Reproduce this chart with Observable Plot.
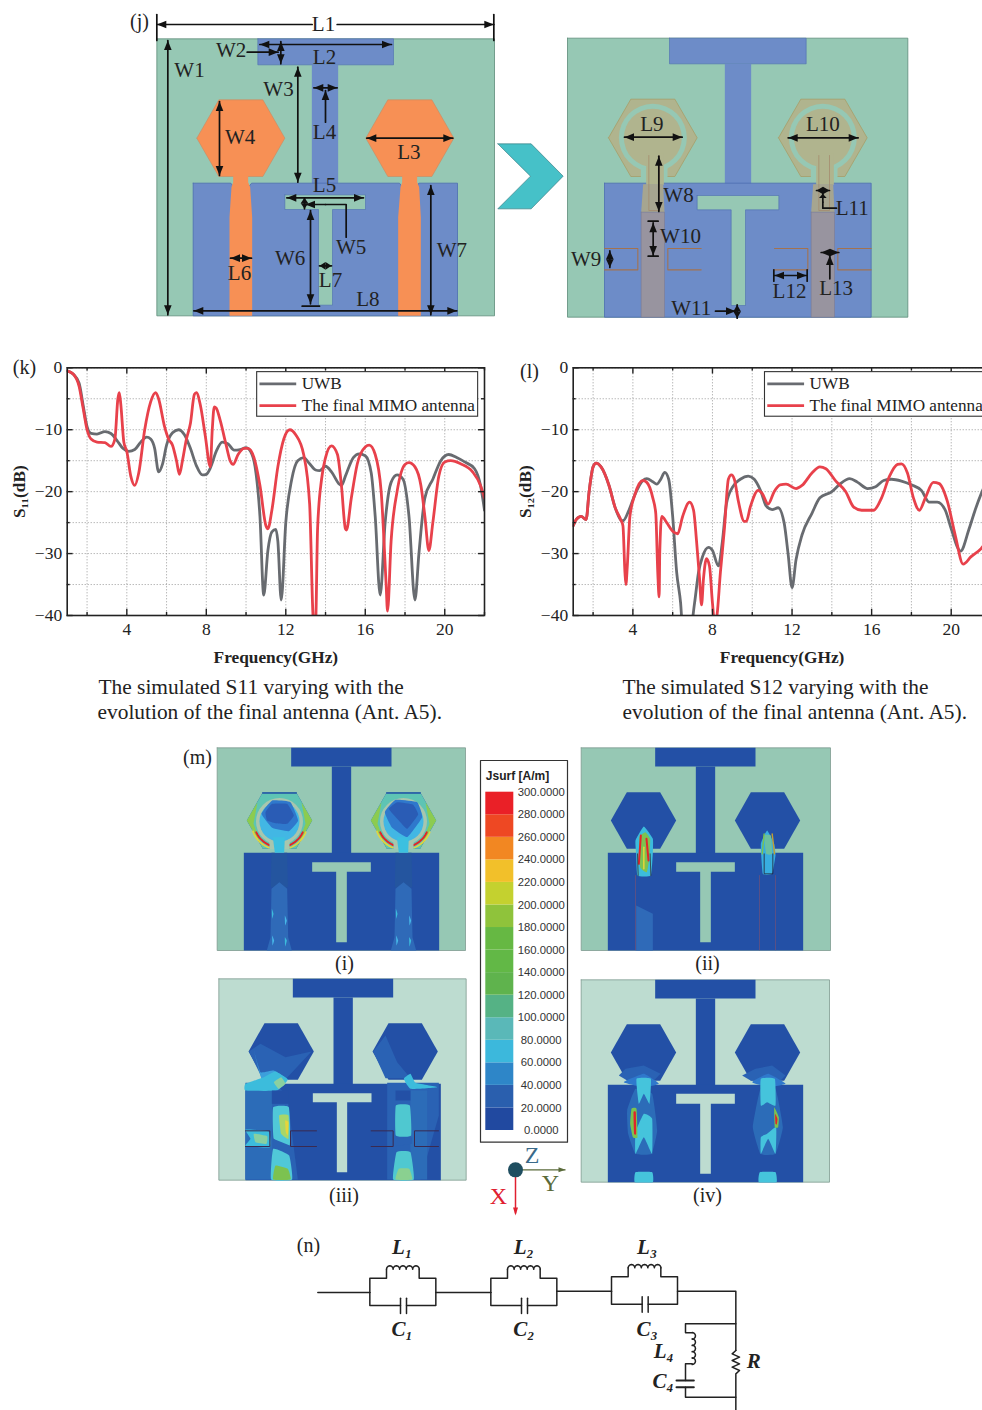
<!DOCTYPE html>
<html><head><meta charset="utf-8">
<script src="https://cdn.jsdelivr.net/npm/d3@7"></script>
<script src="https://cdn.jsdelivr.net/npm/@observablehq/plot@0.6"></script>
<style>
html,body{margin:0;padding:0;background:#fff;overflow:hidden}
#page{position:relative;width:982px;height:1410px;overflow:hidden}
#page svg{position:absolute;background:transparent;max-width:none}
</style></head><body><div id="page"></div>
<script>
// ---------- chart data ----------
const s11Uwb=[[1,-.5],[1.3,-1],[1.6,-2.5],[1.8,-6],[2,-9.5],[2.2,-10.6],[2.5,-10.7],[2.9,-10.3],[3.2,-10.6],[3.5,-11.7],[3.8,-13],[4.1,-13.5],[4.4,-13.2],[4.7,-12],[5,-11.2],[5.2,-11.5],[5.4,-13],[5.6,-16.8],[5.8,-15.5],[6,-12.5],[6.3,-10.5],[6.6,-10],[6.9,-10.8],[7.2,-13],[7.5,-15.8],[7.8,-17.3],[8,-17.2],[8.2,-16.2],[8.5,-13.5],[8.8,-12],[9.1,-12.3],[9.4,-13.3],[9.7,-13.2],[10,-12.9],[10.3,-14],[10.5,-17],[10.7,-24],[10.89,-36.7],[11.1,-29.5],[11.3,-26.5],[11.5,-26.1],[11.6,-28],[11.77,-37.5],[12,-25],[12.3,-18],[12.6,-15],[12.9,-14.5],[13.2,-15.5],[13.5,-16.5],[13.7,-16.6],[14,-15.9],[14.3,-16.8],[14.7,-18.8],[14.8,-19],[15,-17.5],[15.4,-14.5],[15.7,-13.9],[16,-14.2],[16.3,-17],[16.5,-24],[16.75,-36.7],[17,-25],[17.3,-18.5],[17.6,-17.3],[17.9,-18],[18.2,-24],[18.5,-37.5],[18.7,-30],[19,-21],[19.4,-18],[19.8,-15],[20.2,-14],[20.6,-14.5],[21,-15.2],[21.5,-16.3],[21.8,-19],[22,-23]];
const s11Mimo=[[1,-.5],[1.3,-1],[1.6,-3],[1.8,-6.5],[2,-10],[2.2,-11.5],[2.5,-12],[2.9,-12.1],[3.2,-12.7],[3.4,-11.5],[3.55,-5],[3.62,-4],[3.7,-6],[3.85,-12],[4,-13.5],[4.2,-17.5],[4.4,-19],[4.6,-17],[4.9,-10],[5.2,-5.5],[5.45,-4],[5.6,-5],[5.9,-9.5],[6.1,-11.5],[6.3,-12.5],[6.5,-15],[6.65,-17.2],[6.8,-15],[7,-11.5],[7.2,-9],[7.4,-4.3],[7.5,-4],[7.7,-6],[7.95,-11],[8.2,-16],[8.3,-10],[8.4,-6.3],[8.5,-6.5],[8.7,-8.5],[9,-12.5],[9.2,-15],[9.35,-15.6],[9.6,-14],[9.9,-13],[10.1,-13],[10.4,-14.5],[10.7,-19],[11,-25.5],[11.1,-26],[11.3,-23],[11.6,-16],[11.9,-11.5],[12.2,-10],[12.5,-10.8],[12.9,-14],[13.2,-22],[13.4,-41],[13.5,-41],[13.6,-26],[13.8,-18],[14,-14.5],[14.3,-12.6],[14.6,-14],[14.8,-19],[15,-26],[15.05,-26.2],[15.3,-21],[15.6,-15.5],[16,-12.8],[16.2,-12.5],[16.5,-14],[16.8,-20],[17.05,-35],[17.12,-39.3],[17.3,-28],[17.6,-20],[18,-15.6],[18.2,-15.3],[18.5,-16],[18.8,-19],[19,-24],[19.2,-29.5],[19.4,-25],[19.7,-17.5],[20,-15.2],[20.3,-15],[20.8,-15.5],[21.4,-16.8],[21.8,-19],[22,-21]];
const s12Uwb=[[1,-25.5],[1.15,-24.5],[1.4,-24],[1.65,-24.5],[1.8,-20],[2,-16],[2.15,-15.4],[2.4,-16],[2.8,-19],[3.1,-22.5],[3.4,-24.6],[3.5,-24.7],[3.8,-23],[4.1,-20.5],[4.5,-18.2],[4.7,-17.9],[5,-18.4],[5.2,-18.8],[5.4,-18],[5.6,-16.9],[5.8,-18],[6,-24],[6.2,-33],[6.4,-38],[6.5,-42],[6.9,-42],[7.1,-38],[7.3,-33],[7.5,-30.5],[7.8,-29],[8,-29.5],[8.3,-32],[8.5,-28],[8.7,-22],[9,-19.3],[9.4,-18],[9.8,-17.5],[10.1,-18],[10.4,-19.7],[10.7,-22.3],[11,-22.9],[11.3,-22.6],[11.6,-25],[11.8,-30],[12,-35.5],[12.2,-31],[12.5,-27],[13,-23.5],[13.4,-21],[14,-20],[14.4,-18.8],[14.9,-17.9],[15.3,-18.5],[15.8,-19.5],[16.2,-19.2],[16.6,-18.2],[17,-18],[17.5,-18.3],[18,-18.9],[18.5,-19.8],[18.9,-21.7],[19.3,-21.7],[19.7,-23],[20,-26],[20.47,-29.6],[20.9,-26],[21.2,-23],[21.55,-20],[22,-17]];
const s12Mimo=[[1,-25.5],[1.15,-24.5],[1.4,-24],[1.65,-24.5],[1.8,-20],[2,-16],[2.15,-15.4],[2.4,-16],[2.8,-19],[3.1,-22.5],[3.4,-24.6],[3.5,-25.5],[3.6,-33],[3.65,-35],[3.72,-32],[3.85,-24],[4.1,-20.5],[4.5,-18.2],[4.7,-18.5],[5,-21],[5.15,-23.5],[5.25,-33],[5.32,-37],[5.35,-30],[5.45,-24],[5.7,-25],[6,-26.4],[6.25,-26.8],[6.5,-24],[6.85,-21.7],[7.05,-23],[7.2,-28],[7.35,-34],[7.45,-38.3],[7.55,-34],[7.7,-30.8],[7.85,-32],[8,-38],[8.1,-41],[8.2,-40.5],[8.4,-33],[8.6,-26],[8.8,-18],[8.95,-17.3],[9.1,-18],[9.3,-21.5],[9.6,-24.8],[9.7,-24.8],[9.9,-22.5],[10.3,-19.8],[10.5,-20.3],[10.8,-22],[11.1,-20],[11.4,-18.9],[11.7,-18.8],[12.2,-19.5],[12.5,-19],[13,-17],[13.4,-16],[13.7,-16.3],[14.2,-18.3],[14.7,-20],[15.1,-22.5],[15.5,-23],[16.1,-23],[16.5,-21],[16.9,-17.5],[17.3,-15.6],[17.5,-15.5],[17.8,-17],[18.1,-21],[18.4,-23],[18.7,-21],[19.1,-18.5],[19.4,-18.7],[19.8,-21.5],[20.2,-27],[20.6,-31.7],[21,-30.5],[21.5,-29.2],[22,-27]];
const freqMajor=[4,8,12,16,20], freqMinor=[2,6,10,14,18,22];
const dbMajor=[0,-10,-20,-30,-40], dbMinor=[-5,-15,-25,-35];
const seriesNames=["UWB","The final MIMO antenna"];
const seriesColors=["#686b70","#e8414b"];
const jsurfValues=[0,20,40,60,80,100,120,140,160,180,200,220,240,260,280,300];
const jsurfColors=["#2149a0","#2a5fae","#2e86c8","#3cb8dc","#5ab8b8","#55b285","#5fb34d","#62b846","#66b843","#8fc33b","#c4d12f","#f2c02a","#f28722","#ee4823","#ea2027"];
const SERIF="'Liberation Serif','Times New Roman',serif", SANS="'Liberation Sans',Arial,sans-serif";
const page=document.getElementById("page");
const place=(el,l,t)=>{el.style.left=l+"px";el.style.top=t+"px";page.appendChild(el)};

// ---------- line charts ----------
function chart({width,marginLeft,marginRight,ylabel,uwb,mimo,dx,shift}){
  const ln=(d,c)=>Plot.line(d,{x:p=>p[0],y:p=>p[1],stroke:c,strokeWidth:2.8,curve:"monotone-x",clip:true});
  const all=[...freqMajor,...freqMinor];
  return Plot.plot({width,height:320,marginLeft,marginRight,marginTop:12.3,marginBottom:60,
    style:{background:"transparent",fontFamily:SERIF,color:"#222"},
    x:{domain:[1,22],axis:null},y:{domain:[-40,0],axis:null},
    marks:[
      Plot.gridX(all,{stroke:"#8f8f8f",strokeOpacity:.9,strokeDasharray:"1,2"}),
      Plot.gridY([...dbMajor,...dbMinor],{stroke:"#8f8f8f",strokeOpacity:.9,strokeDasharray:"1,2"}),
      ln(uwb,seriesColors[0]),ln(mimo,seriesColors[1]),
      Plot.ruleX(freqMajor,{y1:-40,y2:-39,stroke:"#222",strokeWidth:1.4}),
      Plot.ruleX(freqMajor,{y1:0,y2:-1,stroke:"#222",strokeWidth:1.4}),
      Plot.ruleX(freqMinor,{y1:-40,y2:-39.5,stroke:"#222",strokeWidth:1.4}),
      Plot.ruleX(freqMinor,{y1:0,y2:-.5,stroke:"#222",strokeWidth:1.4}),
      Plot.ruleY(dbMajor,{x1:1,x2:1.3,stroke:"#222",strokeWidth:1.4}),
      Plot.ruleY(dbMajor,{x1:22,x2:21.7,stroke:"#222",strokeWidth:1.4}),
      Plot.ruleY(dbMinor,{x1:1,x2:1.15,stroke:"#222",strokeWidth:1.4}),
      Plot.ruleY(dbMinor,{x1:22,x2:21.85,stroke:"#222",strokeWidth:1.4}),
      Plot.frame({stroke:"#222",strokeWidth:1.6}),
      Plot.axisX(freqMajor,{tickSize:0,tickPadding:7,fontSize:17.5,fontFamily:SERIF,label:null,tickFormat:d=>d}),
      Plot.axisY(dbMajor,{tickSize:0,tickPadding:5,fontSize:17.5,fontFamily:SERIF,label:null}),
      Plot.rect([0],{x1:10.56+shift,x2:21.68+shift,y1:-.7,y2:-7.9,fill:"white",stroke:"#333",strokeWidth:1.1}),
      Plot.ruleY([-2.6],{x1:10.7+shift,x2:12.55+shift,stroke:seriesColors[0],strokeWidth:2.8}),
      Plot.ruleY([-6.1],{x1:10.7+shift,x2:12.55+shift,stroke:seriesColors[1],strokeWidth:2.8}),
      Plot.text([seriesNames[0]],{x:12.8+shift,y:-2.6,textAnchor:"start",fontSize:17.2,fill:"#222"}),
      Plot.text([seriesNames[1]],{x:12.8+shift,y:-6.1,textAnchor:"start",fontSize:17.2,fill:"#222"}),
      Plot.text(["Frequency(GHz)"],{frameAnchor:"bottom",lineAnchor:"middle",dy:42,fontWeight:"bold",fontSize:17.3,fill:"#222"}),
      Plot.text([ylabel],{frameAnchor:"left",textAnchor:"middle",dx,rotate:-90,fontWeight:"bold",fontSize:17.3,fill:"#222"})
    ]});
}

// ---------- diagram helpers ----------
const GREEN="#96c8b4",BLUE="#6d8cc8",ORANGE="#f79055",NAVY="#2350a6",TAN="#b0b48e",BROWN="#a3724f",PALE="#bddcd0",MID="#2c6cb8",CYAN="#3cbcdc",LIME="#7cc250",YEL="#e6d53a",RED="#e0252a";
const X=d=>d[0],Y=d=>d[1];
const marks=[];
const poly=(pts,fill,stroke="none",sw=1)=>marks.push(Plot.line([...pts,pts[0]],{x:X,y:Y,fill,stroke,strokeWidth:sw}));
const blob=(pts,fill)=>marks.push(Plot.line(pts,{x:X,y:Y,fill,stroke:"none",curve:"cardinal-closed",tension:.65}));
const path=(pts,stroke,sw=1,curve="linear")=>marks.push(Plot.line(pts,{x:X,y:Y,stroke,strokeWidth:sw,curve}));
const box=(a,b,c,d)=>[[a,b],[c,b],[c,d],[a,d]];
const label=(t,p,size=21,o={})=>marks.push(Plot.text([t],{x:()=>p[0],y:()=>p[1],fontSize:size,fontFamily:SERIF,fill:"#222",textAnchor:"middle",lineAnchor:"middle",...o}));
const disc=(p,r,fill)=>marks.push(Plot.dot([p],{x:X,y:Y,r,fill,stroke:"none"}));
const Z=(ox,oy)=>pts=>pts.map(([x,y])=>[ox+x/3,oy+y/3]);
const hex=(cx,cy,hw,hh,fl)=>[[cx-hw,cy],[cx-fl,cy-hh],[cx+fl,cy-hh],[cx+hw,cy],[cx+fl,cy+hh],[cx-fl,cy+hh]];
function head(x0,y0,x1,y1,L=9.5,W=3.8){const d=Math.hypot(x1-x0,y1-y0)||1,ux=(x1-x0)/d,uy=(y1-y0)/d;const l=Math.min(L,d*.5);poly([[x1,y1],[x1-ux*l-uy*W,y1-uy*l+ux*W],[x1-ux*l+uy*W,y1-uy*l-ux*W]],"#111")}
function dim(a,b,heads="both",sw=1.7){path([a,b],"#111",sw);if(heads!=="end"&&heads!=="none")head(b[0],b[1],a[0],a[1]);if(heads!=="start"&&heads!=="none")head(a[0],a[1],b[0],b[1])}
const arc=(c,r,a0,a1,n=14)=>d3.range(n+1).map(i=>{const a=(a0+(a1-a0)*i/n)*Math.PI/180;return [c[0]+r*Math.cos(a),c[1]+r*Math.sin(a)]});

// ---------- (j) left layout ----------
{const z=Z(125,5),P=(x,y)=>z([[x,y]])[0];
 poly(z(box(94,100,1107,931)),GREEN,"#5d8b78",.8);
 poly(z(box(397,100,804,178)),BLUE,"#4d6db0",.6);
 poly(z(box(559,178,638,540)),BLUE);
 poly(z([[203,533],[316,533],[322,541],[372,541],[378,533],[559,533],[638,533],[822,533],[828,541],[874,541],[880,533],[996,533],[996,931],[203,931]]),BLUE,"#4d6db0",.8);
 poly(z([[478,568],[720,568],[720,612],[621,612],[621,899],[579,899],[579,612],[478,612]]),GREEN,"#4d6db0",.6);
 for(const [cx,nl,nr,fl,fr] of [[346,323,368,312,380],[853,830,875,818,886]]){
  poly(z(hex(cx,398,132,115,66)),ORANGE,"#c98a5f",.6);
  poly(z([[nl,510],[nr,510],[nr,530],[nr+6,545],[fr,635],[fr,931],[fl,931],[fl,635],[nl-5,545],[nl,530]]),ORANGE);
 }
 const d=[["both",94,57,560,57,"start"],["both",635,57,1105,57,"end"],[0,127,105,127,928],[0,403,117,798,117],[0,466,108,466,175],[0,517,185,517,530],[0,565,247,635,247],[0,282,288,282,510],[0,724,398,982,398],[0,484,577,714,577],[0,537,577,537,610],[0,555,615,555,895],[0,315,758,378,758],[0,582,781,618,781],[0,205,916,994,916],[0,916,540,916,928]];
 for(const r of d) dim(P(r[1],r[2]),P(r[3],r[4]),r[5]||"both");
 dim(P(365,140),P(458,140),"end");dim(P(600,350),P(600,255),"end");
 path(z([[662,695],[662,597],[600,597]]),"#111",1.7);dim(P(600,597),P(540,597),"end");
 dim(P(94,27),P(94,105),"none");dim(P(1105,27),P(1105,105),"none");dim(P(530,902),P(582,902),"none");
 const labs=[["L1",594,57],["W1",192,195],["W2",317,135],["L2",597,155],["W3",459,252],["L4",597,380],["W4",344,395],["L3",850,440],["L5",597,540],["W5",677,725],["W6",494,757],["W7",979,735],["L6",342,803],["L7",615,825],["L8",727,882]];
 for(const [t,x,y] of labs) label(t,P(x,y));
}
// ---------- (j) right layout ----------
{const z=Z(490,25),P=(x,y)=>z([[x,y]])[0];
 poly(z([[22,355],[122,355],[218,452],[122,550],[22,550],[120,452]]),"#46c1c8","#3c7f85",.7);
 poly(z(box(231,38,1252,875)),GREEN,"#5d8b78",.8);
 poly(z(box(537,38,947,115)),BLUE,"#4d6db0",.6);
 poly(z(box(703,115,782,480)),BLUE);
 poly(z(box(342,473,1142,875)),BLUE,"#4d6db0",.8);
 poly(z([[620,510],[865,510],[865,553],[765,553],[765,840],[722,840],[722,553],[620,553]]),GREEN,"#4d6db0",.6);
 for(const cx of [487,997]){
  const c=P(cx,337);
  poly(z(hex(cx,337,133,116,66)),TAN,"#a89a60",.7);
  disc(c,34,GREEN);
  poly(z(box(cx-36,425,cx+44,455)),GREEN);
  disc(c,29,TAN);
  poly(z(box(cx-20,385,cx+33,478)),TAN);
  poly(z([[cx-29,476],[cx+31,476],[cx+35,560],[cx-35,560]]),"#a6a590");
  poly(z(box(cx-35,560,cx+35,875)),"#98949f","#7d7a90",.6);
  path(z([[cx-12,390],[cx-12,555],[cx+20,555],[cx+20,390]]),"#a3866a",.7);
 }
 path(z([[342,669],[442,669],[442,733],[342,733]]),BROWN,1.1);
 path(z([[632,669],[532,669],[532,733],[632,733]]),BROWN,1.1);
 path(z([[852,669],[952,669],[952,733],[852,733]]),BROWN,1.1);
 path(z([[1142,669],[1042,669],[1042,733],[1142,733]]),BROWN,1.1);
 for(const r of [[402,335,575,335],[505,392,505,558],[488,592,488,690],[358,676,358,726],[740,838,740,878],[893,337,1103,337],[978,495,1017,495],[852,750,948,750],[992,681,1045,681]]) dim(P(r[0],r[1]),P(r[2],r[3]));
 dim(P(675,857),P(735,857),"end");dim(P(1018,760),P(1018,690),"end");
 path(z([[1038,548],[997,548],[997,530]]),"#111",1.7);dim(P(997,530),P(997,505),"end");
 for(const r of [[473,587,503,587],[473,692,503,692],[850,733,850,767],[950,733,950,767]]) dim(P(r[0],r[1]),P(r[2],r[3]),"none");
 const labs=[["L9",484,295],["L10",997,295],["W8",564,510],["L11",1085,548],["W10",570,632],["W9",287,700],["L12",897,797],["L13",1037,788],["W11",602,847]];
 for(const [t,x,y] of labs) label(t,P(x,y));
}
label("(j)",[139,21],20);label("(k)",[24,367],20);label("(l)",[529,371],20);label("(m)",[197,757],20);label("(n)",[308,1245],20);

// ---------- captions ----------
[["The simulated S11 varying with the",98,686.5],["evolution of the final antenna (Ant. A5).",97,712],["The simulated S12 varying with the",622,686.5],["evolution of the final antenna (Ant. A5).",622,712]]
 .forEach(([t,x,y])=>label(t,[x,y],21.4,{textAnchor:"start"}));

// ---------- (m) current panels ----------
function panel(zx,zy,pw,ph,ox,oy,bg){
 const z=Z(zx,zy);
 poly(z(box(ox,oy,ox+pw,oy+ph)),bg,"#7f9a90",.8);
 poly(z(box(ox+222,oy,ox+523,oy+56)),NAVY);
 poly(z(box(ox+344,oy+56,ox+402,oy+320)),NAVY);
 poly(z(box(ox+80,oy+315,ox+666,oy+ph)),NAVY);
 for(const cx of [ox+187,ox+559]) poly(z(hex(cx,oy+218,98,85,50)),NAVY);
 return z;
}
const slotT=(z,ox,oy)=>poly(z([[ox+285,oy+343],[ox+461,oy+343],[ox+461,oy+372],[ox+389,oy+372],[ox+389,oy+583],[ox+357,oy+583],[ox+357,oy+372],[ox+285,oy+372]]),GREEN);
// (i)
{const z=panel(175,740,745,608,125,22,GREEN);
 for(const [l,r] of [[288,335],[660,708]]){
  poly(z([[l,337],[r,337],[r+2,440],[l-2,440]]),"#24559f");
  poly(z([[l,445],[(l+r)/2,425],[r,445],[r+3,590],[r+14,630],[l-14,630],[l-3,590]]),"#2f6ab8");
  blob(z([[l+1,505],[l+6,520],[l+2,535]]),CYAN);blob(z([[r-7,525],[r-1,540],[r-6,555]]),"#47b7e8");
  blob(z([[l+2,585],[l+8,600],[l+3,615]]),"#47b7e8");blob(z([[r-7,590],[r-1,600],[r-6,618]]),CYAN);
 }
 for(const [cx,blobPts,midPts] of [[312,[[270,215],[290,190],[335,190],[355,225],[335,250],[300,248],[275,240]],[[258,220],[290,180],[345,185],[368,240],[340,272],[290,262]]],[684,[[640,205],[665,185],[712,192],[728,222],[695,265],[668,238]],[[628,215],[660,178],[725,185],[740,230],[695,290],[650,262]]]]){
  const C=[cx,243];
  poly(z(hex(cx,240,98,85,50)),"#5ec4b4");
  poly(z(box(cx-52,155,cx+52,160)),NAVY);
  poly(z([[cx-98,240],[cx-66,185],[cx-78,250],[cx-50,325],[cx-62,300]]),"#8ccb50");
  poly(z([[cx+98,240],[cx+66,185],[cx+78,250],[cx+50,325],[cx+62,300]]),"#8ccb50");
  path(z(arc(C,85,22,68)),YEL,1.6);path(z(arc(C,85,112,160)),YEL,1.6);
  path(z(arc(C,77,25,68)),RED,2);path(z(arc(C,77,112,155)),RED,2);
  disc(z([C])[0],23.5,"#a8c6ae");
  poly(z(box(cx-30,300,cx+30,326)),"#a8c6ae");
  disc(z([C])[0],20,"#42b7e4");
  blob(z(midPts),"#2f78cc");blob(z(blobPts),"#2a5cb5");
  poly(z([[cx-20,290],[cx+16,290],[cx+14,337],[cx-14,337]]),"#3cc0e0");
 }
 slotT(z,125,22);
}
// (ii)
{const z=panel(575,740,748,608,17,22,GREEN);
 poly(z([[182,495],[232,520],[232,630],[182,630]]),"#2f6ab8");
 blob(z([[180,300],[205,258],[232,295],[232,340],[226,405],[186,405],[182,340]]),CYAN);
 blob(z([[192,290],[210,275],[224,295],[222,350],[214,395],[194,380]]),LIME);
 path(z([[196,285],[190,370]]),RED,2);path(z([[213,295],[219,360]]),RED,2);path(z([[205,320],[205,385]]),YEL,1.5);
 path(z([[186,340],[188,405]]),"#333",.8);path(z([[224,340],[226,405]]),"#333",.8);
 blob(z([[556,310],[575,270],[596,310],[600,345],[590,400],[562,400]]),"#38aee0");
 blob(z([[566,285],[586,285],[590,340],[572,340]]),"#6cc0a0");
 path(z([[566,280],[560,340]]),LIME,1.4);path(z([[590,280],[597,340]]),"#c4a030",1.4);
 path(z([[566,340],[566,400],[592,400],[592,340]]),"#223",.8);
 path(z([[552,405],[552,628]]),"#70507a",.7);path(z([[600,405],[600,628]]),"#70507a",.7);
 path(z([[180,405],[180,628]]),"#70507a",.7);
 slotT(z,17,22);
}
// (iii)
{const z=panel(210,975,742,604,25,10,PALE);
 poly(z([[115,228],[150,205],[225,245],[303,228],[228,308],[155,308]]),"#2a62b4");
 poly(z([[488,228],[525,180],[560,260],[600,308],[525,308]]),"#2a62b4");
 poly(z([[105,322],[190,322],[230,360],[262,612],[105,612]]),"#2a62b4");
 poly(z([[530,322],[685,322],[685,420],[630,612],[530,612]]),"#2a62b4");
 poly(z([[105,345],[185,345],[185,612],[105,612]]),MID);
 poly(z([[600,345],[650,345],[650,612],[600,612]]),MID);
 blob(z([[130,225],[150,290],[190,285],[232,312],[190,318],[155,315]]),"#3c9fdc");
 blob(z([[160,305],[195,288],[232,312],[200,345],[105,345],[105,325]]),CYAN);
 blob(z([[580,310],[600,295],[615,322],[680,335],[600,340]]),CYAN);
 blob(z([[105,462],[175,468],[178,515],[105,512],[120,490]]),CYAN);
 blob(z([[130,475],[170,482],[168,505],[135,500]]),"#8ad0a0");
 blob(z([[188,395],[235,395],[238,510],[190,490]]),"#50c8d8");
 blob(z([[206,420],[234,420],[234,490],[212,475]]),"#a8d66a");
 blob(z([[224,435],[234,440],[232,480],[226,470]]),YEL);
 blob(z([[188,520],[236,540],[245,612],[182,612]]),"#50c8d8");
 blob(z([[195,570],[232,580],[240,612],[188,612]]),LIME);
 blob(z([[556,390],[598,390],[602,480],[556,480]]),"#4fc8d0");
 blob(z([[558,530],[600,530],[610,612],[548,612]]),"#4fc8d0");
 blob(z([[565,580],[596,580],[605,612],[555,612]]),"#8ad090");
 blob(z([[190,320],[212,305],[225,325],[205,340]]),"#8ad0a0");
 poly(z([[188,490],[238,510],[238,530],[188,515]]),"#2a62b4");
 poly(z([[552,490],[605,485],[605,505],[552,512]]),"#2a62b4");
 poly(z([[184,345],[234,345],[234,385],[184,385]]),NAVY);
 poly(z([[555,345],[600,345],[600,375],[555,375]]),NAVY);
 for(const p of [[[105,466],[178,466],[178,513],[105,513]],[[318,466],[240,466],[240,513],[318,513]],[[482,466],[548,466],[548,513],[482,513]],[[684,466],[612,466],[612,513],[684,513]]]) path(z(p),"#3a2a50",1);
 poly(z([[307,353],[483,353],[483,380],[410,380],[410,590],[379,590],[379,380],[307,380]]),PALE);
}
// (iv)
{const z=panel(575,740,745,607,17,718,PALE);
 poly(z([[130,1005],[150,985],[205,975],[255,1000],[235,1020],[155,1020]]),"#2a62b4");
 poly(z([[500,1005],[540,985],[590,975],[630,1005],[615,1020],[525,1020]]),"#2a62b4");
 blob(z([[155,1110],[180,1045],[230,1060],[245,1170],[228,1240],[180,1240],[158,1180]]),MID);
 blob(z([[532,1160],[555,1045],[600,1045],[622,1160],[600,1240],[555,1240]]),MID);
 blob(z([[145,1025],[205,1000],[250,1030],[205,1040]]),"#2f78cc");
 blob(z([[530,1025],[578,1000],[630,1030],[580,1040]]),"#2f78cc");
 blob(z([[183,1015],[226,1015],[222,1090],[205,1060],[190,1090]]),"#45c4dc");
 blob(z([[556,1015],[598,1015],[600,1095],[575,1085],[556,1095]]),"#45c4dc");
 blob(z([[180,1175],[205,1120],[230,1135],[230,1240],[205,1190],[180,1240]]),"#45c4dc");
 blob(z([[556,1190],[575,1180],[602,1160],[600,1240],[578,1195],[556,1240]]),"#45c4dc");
 blob(z([[180,1295],[230,1295],[232,1325],[178,1325]]),"#45c4dc");
 blob(z([[553,1295],[600,1295],[603,1325],[550,1325]]),"#45c4dc");
 blob(z([[168,1105],[183,1105],[186,1190],[172,1190],[164,1150]]),LIME);
 blob(z([[174,1115],[181,1115],[182,1180],[176,1180]]),RED);
 blob(z([[596,1100],[610,1130],[608,1160],[598,1160]]),LIME);
 blob(z([[599,1120],[606,1135],[604,1152],[600,1150]]),RED);
 poly(z([[302,1060],[478,1060],[478,1090],[406,1090],[406,1300],[374,1300],[374,1090],[302,1090]]),PALE);
}
[["(i)",344,963],["(ii)",707,963],["(iii)",343.5,1195],["(iv)",707,1195]].forEach(([t,x,y])=>label(t,[x,y],20));
// colour-bar box and axis triad
{const z=Z(470,750),P=(x,y)=>z([[x,y]])[0];
 poly(z(box(30,30,291,1175)),"#fff","#333",1.2);
 const C=P(135,1258);
 marks.push(Plot.link([0],{x1:()=>C[0],y1:()=>C[1],x2:()=>565,y2:()=>C[1],stroke:"#5a6a3a",strokeWidth:1.3}));
 marks.push(Plot.link([0],{x1:()=>C[0],y1:()=>C[1],x2:()=>C[0],y2:()=>1213,stroke:"#e02030",strokeWidth:1.5}));
 poly([[565,C[1]],[558,C[1]-2.5],[558,C[1]+2.5]],"#5a6a3a");
 poly([[C[0],1215],[C[0]-2.5,1207],[C[0]+2.5,1207]],"#e02030");
 disc(C,7.5,"#1f4e60");
 label("Z",[531.5,1155],24,{fill:"#3a6a8a"});label("Y",[550,1183],24,{fill:"#5a6a3a"});label("X",[498,1196],24,{fill:"#e02030"});
 label("Jsurf [A/m]",[517,776],12,{fontFamily:SANS,fontWeight:"bold",fill:"#222"});
}
// ---------- (n) circuit ----------
{const z=Z(290,1225),P=(x,y)=>z([[x,y]])[0],W="#222",sw=1.5;
 function cell(dx,y){
  path(z([[dx+238,y],[dx+238,y-43],[dx+288,y-43],[dx+288,y-70]]),W,sw);
  path(z([[dx+386,y-70],[dx+386,y-43],[dx+436,y-43],[dx+436,y+39],[dx+348,y+39]]),W,sw);
  path(z([[dx+238,y],[dx+238,y+39],[dx+330,y+39]]),W,sw);
  path(z([[dx+330,y+17],[dx+330,y+63]]),W,sw);path(z([[dx+348,y+17],[dx+348,y+63]]),W,sw);
  const bumps=[0,1,2,3,4].flatMap(i=>arc([dx+298+i*19.6,y-70],10,180,360,6));
  path(z(bumps),W,sw);
 }
 path(z([[82,201],[238,201]]),W,sw);cell(0,201);
 path(z([[436,201],[601,201]]),W,sw);cell(363,201);
 path(z([[799,197],[963,197]]),W,sw);cell(725,197);
 path(z([[1161,197],[1336,197],[1336,375]]),W,sw);
 path(z([[1336,375],[1325,385],[1347,395],[1325,405],[1347,415],[1325,425],[1347,435],[1336,445],[1336,555]]),W,sw);
 path(z([[1336,295],[1185,295],[1185,322],[1205,322]]),W,sw);
 path(z([0,1,2,3,4].flatMap(i=>arc([1205,331+i*19],10,-90,90,6))),W,sw);
 path(z([[1205,415],[1185,415],[1185,465]]),W,sw);
 path(z([[1158,465],[1210,465]]),W,2);path(z([[1158,485],[1210,485]]),W,2);
 path(z([[1185,485],[1185,515],[1336,515]]),W,sw);
 [["L₁",335,65],["C₁",335,312],["L₂",700,65],["C₂",700,312],["L₃",1070,65],["C₃",1070,312],["L₄",1120,378],["C₄",1118,468],["R",1390,408]]
  .forEach(([t,x,y])=>label(t,P(x,y),21,{fontWeight:"bold",fontStyle:"italic"}));
}
// page layer
place(Plot.plot({width:982,height:1410,margin:0,style:{background:"transparent",fontFamily:SERIF},
  x:{domain:[0,982],range:[0,982],axis:null},y:{domain:[0,1410],range:[0,1410],axis:null},marks}),0,0);

// ---------- charts ----------
place(chart({width:495,marginLeft:66.7,marginRight:11,ylabel:"S₁₁(dB)",uwb:s11Uwb,mimo:s11Mimo,dx:-47.7,shift:0}),0,355);
place(chart({width:505,marginLeft:67.7,marginRight:19.5,ylabel:"S₁₂(dB)",uwb:s12Uwb,mimo:s12Mimo,dx:-47.7,shift:.08}),505,355);

// ---------- colour bar ----------
const bands=jsurfColors.map((c,i)=>({lo:jsurfValues[i],hi:jsurfValues[i+1],c}));
place(Plot.plot({width:85,height:350,marginLeft:5.3,marginRight:51.7,marginTop:6.7,marginBottom:5,
  style:{background:"transparent",fontFamily:SANS,overflow:"visible"},
  x:{domain:[0,1],axis:null},y:{domain:[0,300],axis:null},
  marks:[
   Plot.rect(bands,{x1:0,x2:1,y1:"lo",y2:"hi",fill:"c"}),
   Plot.text(jsurfValues,{x:1.98,y:d=>d,text:d=>d.toFixed(4),fontSize:11.3,fill:"#333",fontFamily:SANS})
  ]}),480,785);
</script></body></html>
